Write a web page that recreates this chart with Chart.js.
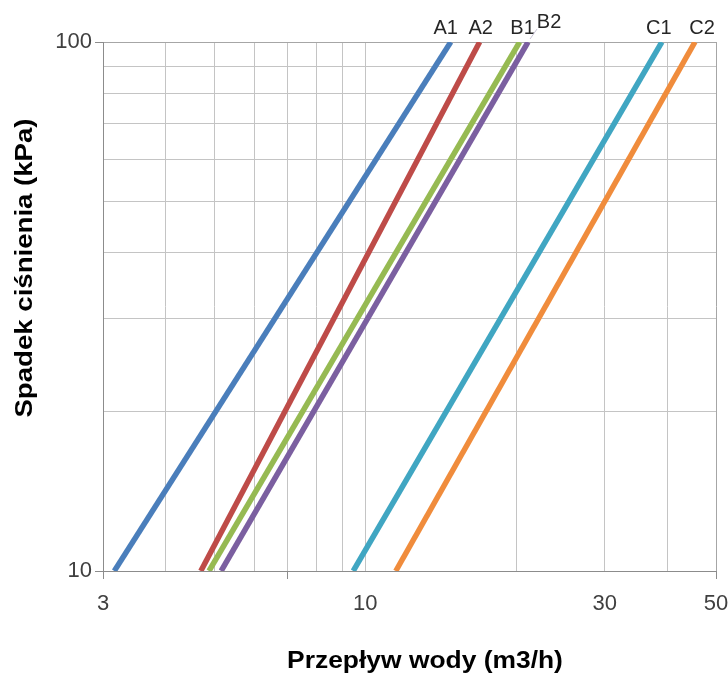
<!DOCTYPE html>
<html>
<head>
<meta charset="utf-8">
<script src="https://cdn.jsdelivr.net/npm/chart.js@4/dist/chart.umd.min.js"></script>
<style>
  html, body { margin: 0; padding: 0; background: #ffffff; }
  #wrap { width: 728px; height: 675px; }
</style>
</head>
<body>
<div id="wrap"><canvas id="chart" width="728" height="675"></canvas></div>
<script>
// Valve characteristics: water flow (m3/h) at 10 kPa and 100 kPa pressure drop
const seriesNames = ['A1', 'A2', 'B1', 'B2', 'C1', 'C2'];
const pressureEnds = [10, 100];
const flowA1 = [3.16, 14.8];
const flowA2 = [4.70, 16.9];
const flowB1 = [4.88, 20.3];
const flowB2 = [5.16, 21.1];
const flowC1 = [9.46, 39.0];
const flowC2 = [11.5, 45.4];

// Axis ticks
const xGridValues = [3, 4, 5, 6, 7, 8, 9, 10, 20, 30, 40, 50];
const xLabelValues = [3, 10, 30, 50];
const xTickMarkValues = [3, 7, 50];
const yGridValues = [10, 20, 30, 40, 50, 60, 70, 80, 90, 100];
const yLabelValues = [10, 100];

const xTitle = 'Przepływ wody (m3/h)';
const yTitle = 'Spadek ciśnienia (kPa)';

const flows = [flowA1, flowA2, flowB1, flowB2, flowC1, flowC2];
const colors = ['#4A7EBB', '#BE4B48', '#96BA52', '#7B5FA0', '#40A6C2', '#F08C3C'];

// label placement next to the upper end of each curve
const labelStyle = {
  A1: { dx: -5, dy: 0 },
  A2: { dx: 1, dy: 0 },
  B1: { dx: 3, dy: 0 },
  B2: { dx: 21, dy: -6, leader: true },
  C1: { dx: -3, dy: 0 },
  C2: { dx: 7, dy: 0 }
};

const FONT = 'Arial, "Liberation Sans", sans-serif';

const datasets = seriesNames.map((name, i) => ({
  label: name,
  data: flows[i].map((q, k) => ({ x: q, y: pressureEnds[k] })),
  borderColor: colors[i],
  backgroundColor: colors[i],
  borderWidth: 5.5,
  pointRadius: 0,
  tension: 0,
  fill: false
}));

const annotate = {
  id: 'annotate',
  afterDraw(chart) {
    const ctx = chart.ctx;
    const xs = chart.scales.x, ys = chart.scales.y;
    ctx.save();
    // curve names
    ctx.font = '20px ' + FONT;
    ctx.fillStyle = '#262626';
    ctx.textAlign = 'center';
    ctx.textBaseline = 'alphabetic';
    chart.data.datasets.forEach((ds) => {
      const top = ds.data[ds.data.length - 1];
      const px = xs.getPixelForValue(top.x);
      const py = ys.getPixelForValue(top.y);
      const st = labelStyle[ds.label];
      const tx = px + st.dx;
      const ty = py - 8 + st.dy;
      ctx.fillText(ds.label, tx, ty);
      if (st.leader) {
        ctx.strokeStyle = '#c9c3d6';
        ctx.lineWidth = 1;
        ctx.beginPath();
        ctx.moveTo(px + 2, py - 3);
        ctx.lineTo(tx - 12, ty + 1);
        ctx.stroke();
      }
    });
    // axis titles
    ctx.font = 'bold 24px ' + FONT;
    ctx.fillStyle = '#000000';
    ctx.textAlign = 'center';
    ctx.textBaseline = 'middle';
    ctx.save();
    ctx.translate(425, 661);
    ctx.scale(1.1, 1);
    ctx.fillText(xTitle, 0, 0);
    ctx.restore();
    ctx.save();
    ctx.translate(25, 268);
    ctx.rotate(-Math.PI / 2);
    ctx.scale(1.15, 1);
    ctx.fillText(yTitle, 0, 0);
    ctx.restore();
    ctx.restore();
  }
};

new Chart(document.getElementById('chart'), {
  type: 'line',
  data: { datasets },
  options: {
    responsive: false,
    devicePixelRatio: 1,
    animation: false,
    events: [],
    layout: { padding: { top: 42, right: 12, left: 0, bottom: 0 } },
    plugins: { legend: { display: false }, tooltip: { enabled: false }, title: { display: false } },
    scales: {
      x: {
        type: 'logarithmic',
        min: 3,
        max: 50,
        afterBuildTicks: (s) => { s.ticks = xGridValues.map(v => ({ value: v })); },
        afterFit: (s) => { s.height = 104; s.paddingLeft = 0; s.paddingRight = 0; },
        ticks: {
          autoSkip: false,
          maxRotation: 0,
          padding: 12,
          color: '#404040',
          font: { family: FONT, size: 22 },
          callback: (v) => xLabelValues.includes(v) ? String(v) : ''
        },
        grid: {
          color: (c) => (c.tick && c.tick.value === 50) ? '#a6a6a6' : '#c4c4c4',
          lineWidth: 1,
          tickLength: 8,
          tickColor: (c) => (c.tick && xTickMarkValues.includes(c.tick.value)) ? '#8c8c8c' : 'rgba(0,0,0,0)'
        },
        border: { display: true, color: '#8c8c8c', width: 1 }
      },
      y: {
        type: 'logarithmic',
        min: 10,
        max: 100,
        afterBuildTicks: (s) => { s.ticks = yGridValues.map(v => ({ value: v })); },
        afterFit: (s) => { s.width = 103; s.paddingTop = 0; s.paddingBottom = 0; },
        ticks: {
          autoSkip: false,
          padding: 3,
          color: '#404040',
          font: { family: FONT, size: 22 },
          callback: (v) => yLabelValues.includes(v) ? String(v) : ''
        },
        grid: {
          color: (c) => (c.tick && c.tick.value === 100) ? '#a6a6a6' : '#c4c4c4',
          lineWidth: 1,
          tickLength: 8,
          tickColor: (c) => (c.tick && yLabelValues.includes(c.tick.value)) ? '#8c8c8c' : 'rgba(0,0,0,0)'
        },
        border: { display: true, color: '#8c8c8c', width: 1 }
      }
    }
  },
  plugins: [annotate]
});
</script>
</body>
</html>
